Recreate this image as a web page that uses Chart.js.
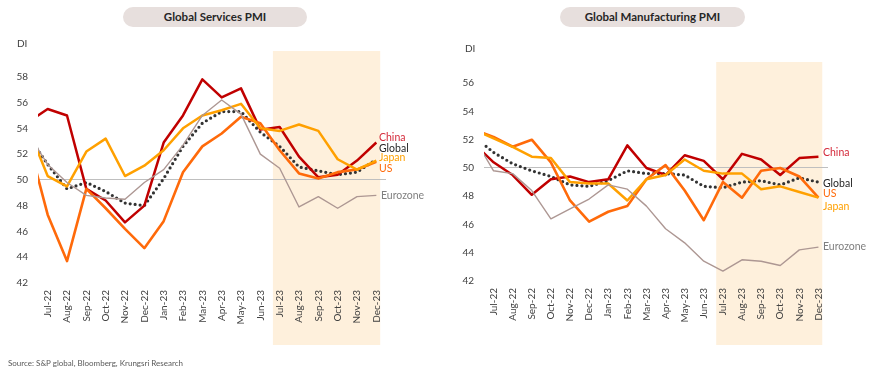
<!DOCTYPE html>
<html><head><meta charset="utf-8">
<script src="https://cdn.jsdelivr.net/npm/chart.js@4/dist/chart.umd.min.js"></script>
<style>
body{margin:0;width:870px;height:375px;background:#fff;position:relative;overflow:hidden;font-family:Lato,"Open Sans",sans-serif;}
canvas{position:absolute;top:0;}
.pill{position:absolute;height:20px;border-radius:10px;background:#e7dfdd;color:#262626;font-weight:bold;font-size:11.5px;line-height:20px;text-align:center;}
.src{position:absolute;left:8px;top:358px;font-size:8px;color:#595959;}
.di{position:absolute;font-size:10px;color:#404040;}
</style></head><body>
<canvas id="c1" width="435" height="375" style="left:0"></canvas>
<canvas id="c2" width="435" height="375" style="left:435px"></canvas>
<div class="pill" style="left:123px;top:7px;width:184px">Global Services PMI</div>
<div class="pill" style="left:560px;top:7px;width:185px">Global Manufacturing PMI</div>
<div class="di" style="left:17px;top:37px">DI</div>
<div class="di" style="left:465px;top:42px">DI</div>
<div class="src">Source: S&amp;P global, Bloomberg, Krungsri Research</div>
<script>
// Months (Jun-22 is only partly visible at the left edge of each plot)
const months = ['Jun-22','Jul-22','Aug-22','Sep-22','Oct-22','Nov-22','Dec-22','Jan-23','Feb-23','Mar-23','Apr-23','May-23','Jun-23','Jul-23','Aug-23','Sep-23','Oct-23','Nov-23','Dec-23'];

// Global Services PMI
const svcChina    = [54.5,55.5,55.0,49.3,48.4,46.7,48.0,52.9,55.0,57.8,56.4,57.1,53.9,54.1,51.8,50.2,50.4,51.5,52.9];
const svcGlobal   = [53.4,51.2,49.3,49.8,49.1,48.2,48.0,50.1,52.6,54.4,55.3,55.3,53.7,52.6,51.0,50.7,50.4,50.6,51.6];
const svcJapan    = [54.0,50.3,49.5,52.2,53.2,50.3,51.1,52.3,54.0,55.0,55.4,55.9,54.0,53.8,54.3,53.8,51.6,50.8,51.5];
const svcUS       = [53.0,47.3,43.7,49.3,47.8,46.2,44.7,46.8,50.6,52.6,53.6,54.9,54.4,52.3,50.5,50.1,50.6,50.8,51.4];
const svcEurozone = [53.6,51.2,49.8,48.8,48.6,48.5,49.8,50.8,52.7,55.0,56.2,55.1,52.0,50.9,47.9,48.7,47.8,48.7,48.8];

// Global Manufacturing PMI
const mfgChina    = [51.7,50.4,49.5,48.1,49.2,49.4,49.0,49.2,51.6,50.0,49.5,50.9,50.5,49.2,51.0,50.6,49.5,50.7,50.8];
const mfgGlobal   = [52.2,51.1,50.3,49.8,49.4,48.8,48.7,49.1,49.8,49.6,49.6,49.5,48.7,48.6,49.0,49.1,48.8,49.3,49.0];
const mfgJapan    = [52.7,52.1,51.5,50.8,50.7,49.0,48.9,48.9,47.7,49.2,49.5,50.6,49.8,49.6,49.6,48.5,48.7,48.3,47.9];
const mfgUS       = [52.7,52.2,51.5,52.0,50.4,47.7,46.2,46.9,47.3,49.2,50.2,48.4,46.3,49.0,47.9,49.8,50.0,49.4,47.9];
const mfgEurozone = [52.1,49.8,49.6,48.4,46.4,47.1,47.8,48.8,48.5,47.3,45.7,44.7,43.4,42.7,43.5,43.4,43.1,44.2,44.4];

// Y tick values
const svcTicks = [42,44,46,48,50,52,54,56,58];
const mfgTicks = [42,44,46,48,50,52,54,56];

Chart.defaults.font.family = 'Lato';
Chart.defaults.color = '#404040';

function pts(arr){ return arr.map((v,i)=>({x:i-1,y:v})); }

const shadePlugin = {
  id:'shade',
  beforeDraw(chart, args, opts){
    const {ctx, chartArea, scales:{x}} = chart;
    const x0 = x.getPixelForValue(opts.from), x1 = x.getPixelForValue(opts.to);
    ctx.save();
    ctx.fillStyle = '#fef0dc';
    ctx.fillRect(x0, chartArea.top, x1-x0, opts.bottom - chartArea.top);
    ctx.restore();
  }
};
const labelPlugin = {
  id:'endLabels',
  afterDatasetsDraw(chart, args, opts){
    const {ctx, scales:{x,y}} = chart;
    ctx.save();
    ctx.font = '10.5px Lato';
    ctx.textBaseline = 'middle';
    opts.items.forEach(it=>{
      ctx.fillStyle = it.color;
      ctx.fillText(it.text, x.right + it.dx, y.getPixelForValue(it.at));
    });
    ctx.restore();
  }
};

function makeChart(id, series, tickVals, yMax, pad, yWidth, xHeight, labels){
  const [china, global, japan, us, euro] = series;
  const ds = (data, color, width, extra) => Object.assign({data:pts(data), borderColor:color, borderWidth:width, pointRadius:0, fill:false, tension:0, clip:0, borderJoinStyle:'round'}, extra||{});
  return new Chart(document.getElementById(id), {
    type:'line',
    data:{datasets:[
      ds(euro,'#ad9793',1.4),
      ds(japan,'#ffa000',2.5),
      ds(us,'#ff6a0a',2.6),
      ds(china,'#c00000',2.5),
      ds(global,'#333333',3.2,{borderDash:[0,5],borderCapStyle:'round'})
    ]},
    options:{
      responsive:false, animation:false, devicePixelRatio:1,
      layout:{padding:pad},
      plugins:{legend:{display:false}, tooltip:{enabled:false},
        shade:{from:11.65,to:17.2,bottom:345},
        endLabels:{items:labels}},
      scales:{
        x:{type:'linear',min:-0.5,max:17.5,border:{display:false},grid:{display:false,drawTicks:false},
          afterBuildTicks:s=>{s.ticks = months.slice(1).map((m,i)=>({value:i}));},
          ticks:{autoSkip:false,maxRotation:90,minRotation:90,padding:7,color:'#404040',font:{size:10},
            callback:v=>months[v+1]},
          afterFit:s=>{s.height = xHeight;}},
        y:{min:42,max:yMax,border:{display:false},
          grid:{drawTicks:false,lineWidth:1,color:c=>(c.tick && c.tick.value===50)?'#bfbfbf':'rgba(0,0,0,0)'},
          afterBuildTicks:s=>{s.ticks = tickVals.map(v=>({value:v})).concat([{value:yMax}]);},
          ticks:{padding:10,color:'#404040',font:{size:10},callback:v=>tickVals.includes(v)?v:''},
          afterFit:s=>{s.width = yWidth;}}
      }
    },
    plugins:[shadePlugin,labelPlugin]
  });
}

makeChart('c1',[svcChina,svcGlobal,svcJapan,svcUS,svcEurozone],svcTicks,60,{top:51,right:49,left:0,bottom:0},38,92,[
  {text:'China',color:'#d42a3a',at:53.26,dx:-7},
  {text:'Global',color:'#262626',at:52.4,dx:-7},
  {text:'Japan',color:'#ffa000',at:51.7,dx:-7},
  {text:'US',color:'#ff6a0a',at:50.9,dx:-7},
  {text:'Eurozone',color:'#7f7f7f',at:48.76,dx:-5}
]);
makeChart('c2',[mfgChina,mfgGlobal,mfgJapan,mfgUS,mfgEurozone],mfgTicks,57.5,{top:62,right:42,left:0,bottom:0},49,94,[
  {text:'China',color:'#d42a3a',at:51.06,dx:-5},
  {text:'Global',color:'#262626',at:48.87,dx:-5},
  {text:'US',color:'#ff6a0a',at:48.16,dx:-5},
  {text:'Japan',color:'#ffa000',at:47.3,dx:-5},
  {text:'Eurozone',color:'#7f7f7f',at:44.4,dx:-5}
]);
</script>
</body></html>
